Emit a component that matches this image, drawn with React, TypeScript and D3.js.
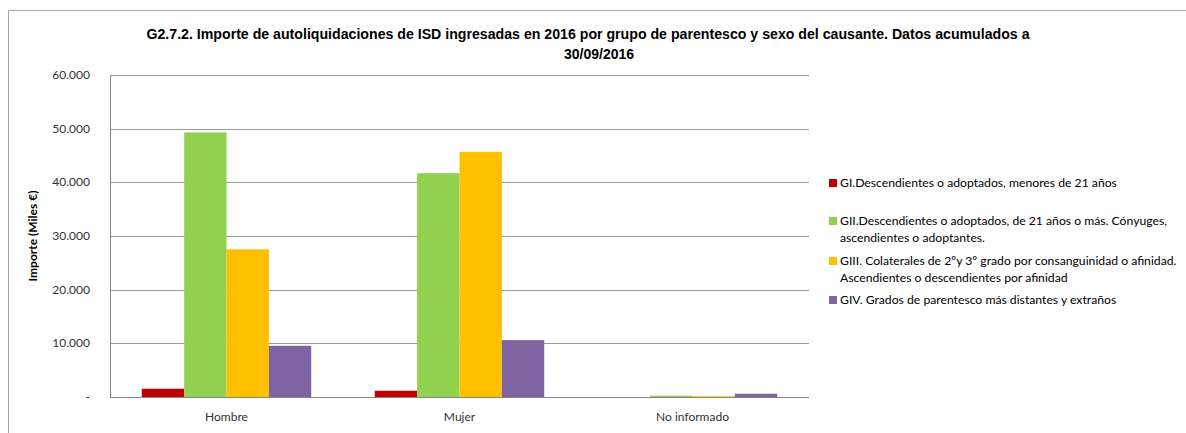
import React from "react";
import * as d3 from "d3";

const categories = ["Hombre", "Mujer", "No informado"];
const seriesNames = [
  ["GI.Descendientes o adoptados, menores de 21 años"],
  ["GII.Descendientes o adoptados, de 21 años o más. Cónyuges,", "ascendientes o adoptantes."],
  ["GIII. Colaterales de 2ºy 3º grado por consanguinidad o afinidad.", "Ascendientes o descendientes por afinidad"],
  ["GIV. Grados de parentesco más distantes y extraños"],
];
const seriesColors = ["#C00000", "#92D050", "#FFC000", "#8064A2"];
const gI = [1540, 1170, 0];
const gII = [49300, 41700, 250];
const gIII = [27530, 45680, 150];
const gIV = [9540, 10600, 610];
const yTicks = [0, 10000, 20000, 30000, 40000, 50000, 60000];
const titleLines = [
  "G2.7.2. Importe de autoliquidaciones de ISD ingresadas en 2016 por grupo de parentesco y sexo del causante. Datos acumulados a",
  "30/09/2016",
];
const yAxisTitle = "Importe (Miles €)";

const W = 1186;
const H = 433;
const plot = { left: 110, right: 809, top: 75, bottom: 397 };
const font = "Lato, 'Open Sans', sans-serif";

export default function App() {
  const series = [gI, gII, gIII, gIV];
  const x0 = d3.scaleBand<string>().domain(categories).range([plot.left, plot.right]).paddingInner(0).paddingOuter(0);
  const step = x0.bandwidth();
  const barW = step / (4 + 1.5);
  const y = d3.scaleLinear().domain([0, 60000]).range([plot.bottom, plot.top]);
  const fmt = (v: number) => (v === 0 ? "-" : d3.format(",")(v).replace(/,/g, "."));
  const legendY = [183, 221, 261, 300];

  return (
    <svg width={W} height={H} style={{ position: "absolute", left: 0, top: 0, background: "#fff" }}>
      <rect x={0} y={0} width={W} height={H} fill="#fff" />
      <path d={`M8.5,${H} V10.5 H${W}`} fill="none" stroke="#A6A6A6" strokeWidth={1} />
      {titleLines.map((t, i) => (
        <text
          key={i}
          x={i === 0 ? 588 : 599}
          y={39 + i * 20}
          textAnchor="middle"
          fontFamily="'Liberation Sans', Arial, sans-serif"
          fontWeight="bold"
          fontSize={14}
          fill="#000"
          textLength={i === 0 ? 883 : undefined}
          lengthAdjust="spacingAndGlyphs"
        >
          {t}
        </text>
      ))}
      {yTicks.map((t) => (
        <line
          key={t}
          x1={plot.left}
          x2={plot.right}
          y1={Math.round(y(t)) + 0.5}
          y2={Math.round(y(t)) + 0.5}
          stroke={t === 0 ? "#868686" : "#9A9A9A"}
          strokeWidth={1}
        />
      ))}
      <line x1={plot.left + 0.5} x2={plot.left + 0.5} y1={plot.top} y2={plot.bottom + 1} stroke="#868686" />
      {yTicks.map((t) => (
        <text
          key={"l" + t}
          x={90}
          y={y(t) + 4}
          textAnchor="end"
          fontFamily={font}
          fontSize={12}
          fill="#333"
        >
          {fmt(t)}
        </text>
      ))}
      <text
        transform={`translate(37,${(plot.top + plot.bottom) / 2}) rotate(-90)`}
        textAnchor="middle"
        fontFamily={font}
        fontWeight="bold"
        fontSize={12}
        fill="#000"
      >
        {yAxisTitle}
      </text>
      {categories.map((c, ci) => {
        const gx = (x0(c) as number) + (step - barW * 4) / 2;
        return series.map((s, si) => {
          const v = s[ci];
          if (v <= 0) return null;
          const top = y(v);
          return (
            <rect
              key={c + si}
              x={gx + si * barW}
              y={top}
              width={barW}
              height={plot.bottom - top}
              fill={seriesColors[si]}
            />
          );
        });
      })}
      {categories.map((c) => (
        <text
          key={"x" + c}
          x={(x0(c) as number) + step / 2}
          y={421}
          textAnchor="middle"
          fontFamily={font}
          fontSize={12}
          fill="#333"
        >
          {c}
        </text>
      ))}
      {seriesNames.map((lines, i) => (
        <g key={"lg" + i}>
          <rect x={829} y={legendY[i] - 4} width={8} height={8} fill={seriesColors[i]} />
          {lines.map((ln, li) => (
            <text
              key={li}
              x={840}
              y={legendY[i] + 4 + li * 17}
              fontFamily={font}
              fontSize={12.2}
              fill="#000"
            >
              {ln}
            </text>
          ))}
        </g>
      ))}
    </svg>
  );
}
